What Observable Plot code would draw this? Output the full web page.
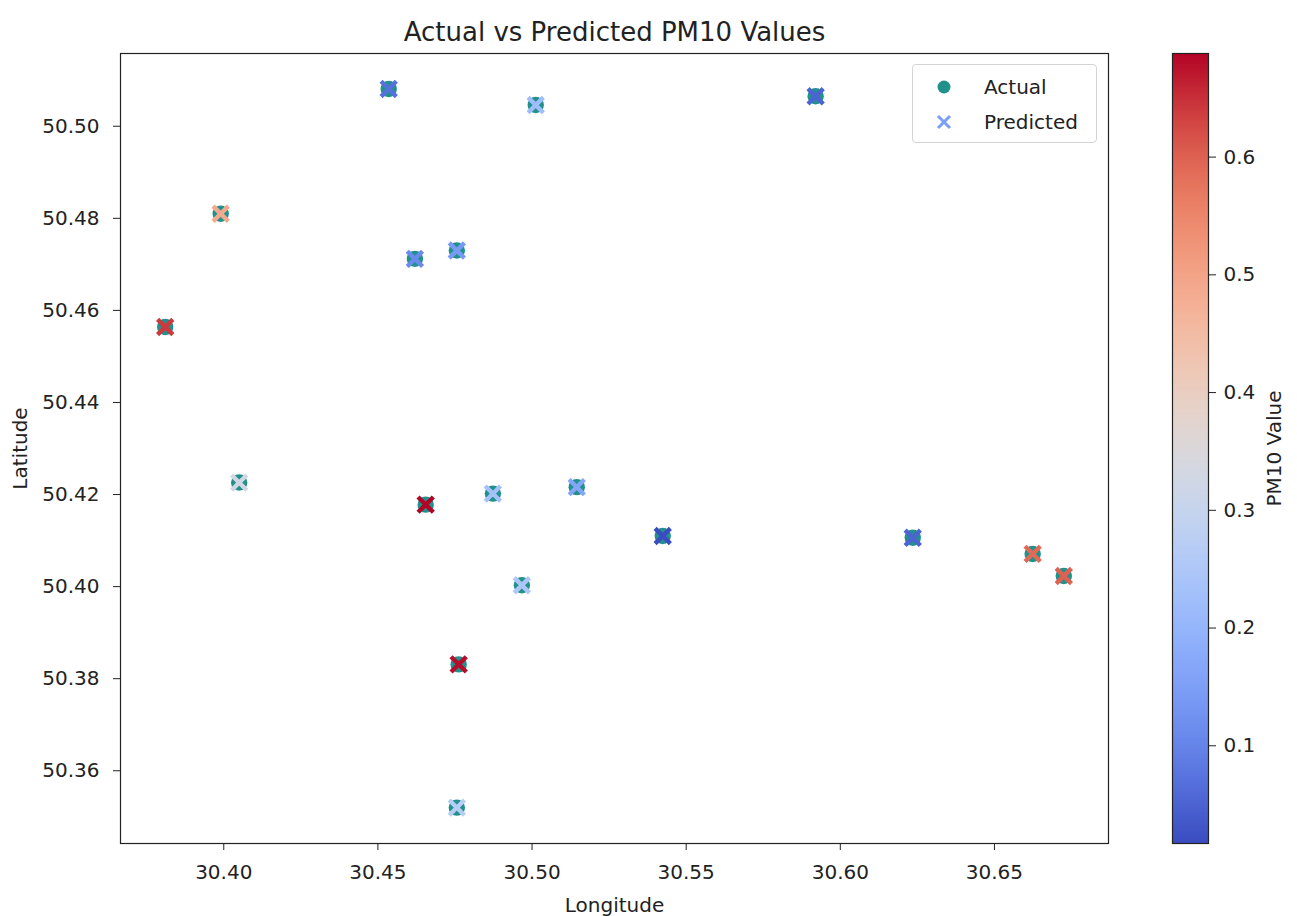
<!DOCTYPE html>
<html>
<head>
<meta charset="utf-8">
<script src="https://cdn.jsdelivr.net/npm/d3@7"></script>
<script src="https://cdn.jsdelivr.net/npm/@observablehq/plot@0.6"></script>
<style>
  html, body { margin: 0; padding: 0; background: #fff; }
  body { width: 1297px; height: 916px; position: relative; overflow: hidden; font-family: "DejaVu Sans", sans-serif; color: #222; }
  #main { position: absolute; left: 0; top: 0; }
  #cbar { position: absolute; left: 1162px; top: 0; }
  #legend { position: absolute; left: 912px; top: 64px; width: 183px; height: 77px; border: 1px solid #d4d4d4; border-radius: 4px; background: rgba(255,255,255,0.85); }
  .li { position: absolute; left: 0; height: 30px; width: 183px; font-size: 20px; line-height: 30px; }
  .li svg { position: absolute; left: 20px; top: 5px; }
  .li span { position: absolute; left: 71px; top: 0; }
</style>
</head>
<body>
<div id="main"></div>
<div id="cbar"></div>
<div id="legend">
  <div class="li" style="top:7px"><svg width="22" height="20"><circle cx="11" cy="10" r="6.5" fill="#21918c"></circle></svg><span>Actual</span></div>
  <div class="li" style="top:42px"><svg width="22" height="20"><path d="M5,4L17,16M17,4L5,16" stroke="#7b9ff9" stroke-width="3"></path></svg><span>Predicted</span></div>
</div>
<script>
// Data
const longitude = [30.4535, 30.5012, 30.5920, 30.3990, 30.4620, 30.4756, 30.3810, 30.4050, 30.4655,
                   30.4873, 30.5145, 30.5424, 30.6235, 30.6624, 30.6725, 30.4967, 30.4762, 30.4756];
const latitude  = [50.5081, 50.5046, 50.5065, 50.4810, 50.4712, 50.4730, 50.4564, 50.4226, 50.4178,
                   50.4202, 50.4216, 50.4110, 50.4106, 50.4071, 50.4023, 50.4003, 50.3831, 50.3520];
const predicted = [0.07, 0.22, 0.05, 0.49, 0.11, 0.14, 0.64, 0.33, 0.688,
                   0.23, 0.165, 0.017, 0.05, 0.59, 0.60, 0.25, 0.68, 0.27];
const xTicks = [30.40, 30.45, 30.50, 30.55, 30.60, 30.65];
const yTicks = [50.36, 50.38, 50.40, 50.42, 50.44, 50.46, 50.48, 50.50];
const cTicks = [0.1, 0.2, 0.3, 0.4, 0.5, 0.6];
const pmRange = [0.017, 0.688];

const points = longitude.map((lon, i) => ({lon, lat: latitude[i], pred: predicted[i]}));

// matplotlib "coolwarm" approximation
const coolwarm = d3.interpolateRgbBasis(["#3b4cc0", "#6788ee", "#8db0fe", "#b9d0f9", "#dddddd", "#f5c4ac", "#f49a7b", "#e0654f", "#b40426"]);
const colorScale = {type: "linear", domain: pmRange, interpolate: coolwarm};

const textStyle = {fontFamily: "DejaVu Sans, sans-serif", fontSize: "20px", color: "#222", background: "transparent", overflow: "visible"};

const main = Plot.plot({
  width: 1130, height: 916,
  marginLeft: 120, marginRight: 22, marginTop: 53, marginBottom: 73,
  style: textStyle,
  x: {domain: [30.3665, 30.6870]},
  y: {domain: [50.3442, 50.5158]},
  color: colorScale,
  marks: [
    Plot.frame({stroke: "#222", strokeWidth: 1.2}),
    Plot.axisX({ticks: xTicks, tickFormat: ".2f", tickSize: 7, tickPadding: 14, label: "Longitude", labelArrow: "none", labelAnchor: "center", labelOffset: 68, stroke: "#222"}),
    Plot.axisY({ticks: yTicks, tickFormat: ".2f", tickSize: 7, tickPadding: 14, label: "Latitude", labelArrow: "none", labelAnchor: "center", labelOffset: 108, stroke: "#222"}),
    Plot.dot(points, {x: "lon", y: "lat", r: 8.2, fill: "#21918c", stroke: null}),
    Plot.dot(points, {x: "lon", y: "lat", r: 7.0, symbol: "times", stroke: "pred", strokeWidth: 4.4}),
    Plot.text(["Actual vs Predicted PM10 Values"], {frameAnchor: "top", dy: -13, lineAnchor: "bottom", fontSize: 26, fill: "#222"})
  ]
});
document.getElementById("main").appendChild(main);

const cbar = Plot.plot({
  width: 135, height: 916,
  marginLeft: 10, marginRight: 89, marginTop: 53, marginBottom: 73,
  style: textStyle,
  x: {domain: [0, 1], axis: null},
  y: {domain: pmRange},
  color: colorScale,
  marks: [
    Plot.raster({x1: 0, x2: 1, y1: pmRange[0], y2: pmRange[1], width: 1, height: 300, fill: (x, y) => y, imageRendering: "auto"}),
    Plot.frame({stroke: "#222", strokeWidth: 1.2}),
    Plot.axisY({anchor: "right", ticks: cTicks, tickFormat: ".1f", tickSize: 7, tickPadding: 8, label: "PM10 Value", labelArrow: "none", labelAnchor: "center", labelOffset: 72, stroke: "#222"})
  ]
});
document.getElementById("cbar").appendChild(cbar);
</script>
</body>
</html>
